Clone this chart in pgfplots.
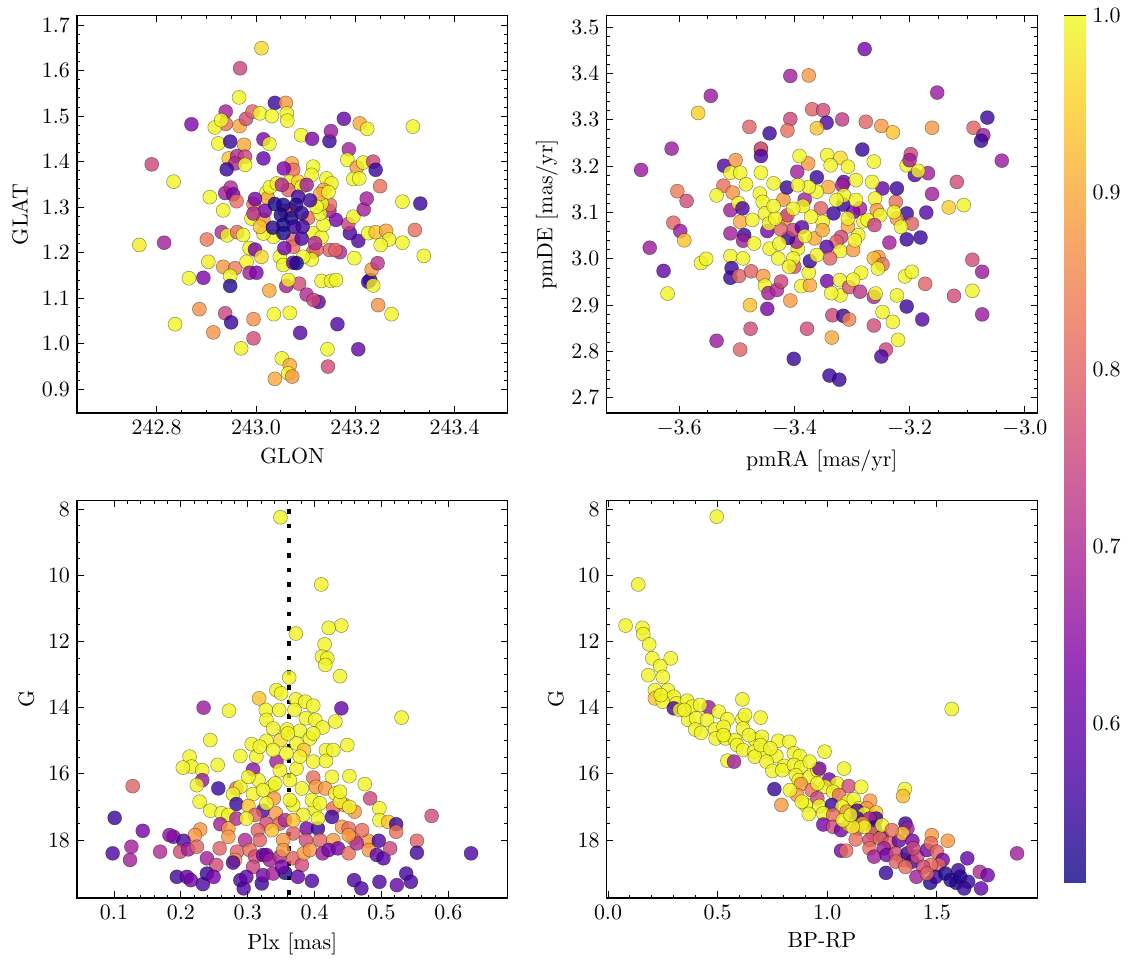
\documentclass[border=0pt]{standalone}
\usepackage{pgfplots}
\pgfplotsset{compat=1.18}
\usepackage{pgfplotstable}

\pgfplotsset{
  colormap={plasma}{rgb255=(13,8,135) rgb255=(76,2,161) rgb255=(126,3,168) rgb255=(170,35,149) rgb255=(204,71,120) rgb255=(230,108,92) rgb255=(248,149,64) rgb255=(253,196,39) rgb255=(240,249,33)},
  colormap={plasmalight}{rgb255=(61,57,159) rgb255=(112,53,180) rgb255=(152,53,185) rgb255=(187,79,170) rgb255=(214,108,147) rgb255=(235,137,125) rgb255=(249,170,102) rgb255=(253,208,82) rgb255=(243,250,77)},
  panel/.style={
    scale only axis, width=215.35pt, height=198.65pt, anchor=south west,
    tick align=inside, major tick length=3.3pt, minor tick length=1.7pt,
    every tick/.style={black, line width=0.45pt},
    axis line style={line width=0.55pt},
    colormap name=plasma, point meta min=0.51, point meta max=1.0,
    font=\fontsize{10.95}{13}\selectfont,
    scaled ticks=false, clip=true,
  },
  onedec/.style={/pgf/number format/.cd, fixed, fixed zerofill, precision=1},
  pts/.style={scatter, only marks, mark=*, mark size=3.5pt, scatter src=explicit,
    scatter/use mapped color={draw=black, fill=mapped color},
    mark options={line width=0.25pt, draw opacity=0.45, fill opacity=0.8}},
}

\pgfplotstableread[row sep=\\]{
x y p\\
243.011 1.649 0.965\\ 242.968 1.605 0.75\\ 242.966 1.541 1.0\\ 243.038 1.529 0.55\\ 243.060 1.529 0.88\\
243.062 1.506 0.995\\ 243.063 1.490 0.995\\ 242.870 1.482 0.63\\ 242.939 1.510 0.68\\ 242.939 1.483 0.82\\
242.917 1.475 0.995\\ 242.930 1.491 1.0\\ 242.967 1.478 0.90\\ 242.980 1.494 0.76\\ 242.993 1.510 0.80\\
243.008 1.506 1.0\\ 243.032 1.500 1.0\\ 242.924 1.440 1.0\\ 242.948 1.444 0.55\\ 242.976 1.437 0.90\\
243.015 1.449 0.63\\ 243.027 1.439 1.0\\ 243.091 1.458 1.0\\ 243.113 1.450 0.63\\ 243.148 1.445 0.55\\
243.151 1.467 0.67\\ 243.177 1.494 0.60\\ 243.209 1.484 0.90\\ 243.224 1.472 0.995\\ 243.316 1.477 0.995\\
243.187 1.427 0.68\\ 243.184 1.404 1.0\\ 243.203 1.387 0.88\\ 243.216 1.398 0.995\\ 243.236 1.400 0.75\\
243.241 1.382 0.55\\ 243.196 1.362 1.0\\ 243.208 1.363 1.0\\ 243.250 1.346 0.82\\ 242.790 1.394 0.75\\
242.834 1.356 0.995\\ 242.945 1.407 0.935\\ 242.962 1.412 0.70\\ 242.978 1.411 0.75\\ 242.958 1.396 0.70\\
242.978 1.393 1.0\\ 242.941 1.383 0.55\\ 243.015 1.407 0.60\\ 242.907 1.322 1.0\\ 242.934 1.293 1.0\\
242.938 1.331 0.68\\ 242.949 1.343 0.70\\ 242.954 1.328 0.62\\ 242.961 1.313 0.82\\ 242.931 1.245 0.70\\
242.942 1.238 0.995\\ 242.962 1.245 0.82\\ 242.974 1.239 1.0\\ 242.901 1.229 0.83\\ 242.815 1.222 0.68\\
242.765 1.217 0.985\\ 242.904 1.180 0.985\\ 242.934 1.169 0.88\\ 242.958 1.166 0.84\\ 242.948 1.149 1.0\\
242.865 1.144 1.0\\ 242.894 1.145 0.63\\ 242.948 1.127 0.53\\ 242.987 1.210 1.0\\ 242.998 1.207 0.62\\
242.981 1.180 0.995\\ 243.011 1.191 0.965\\ 242.987 1.156 0.68\\ 243.001 1.156 0.63\\ 242.886 1.076 0.87\\
242.914 1.025 0.87\\ 242.938 1.067 0.75\\ 242.950 1.047 0.55\\ 242.837 1.043 0.995\\ 242.970 0.990 0.995\\
242.995 1.054 0.87\\ 242.995 1.012 0.76\\ 243.027 1.117 0.90\\ 243.036 1.065 1.0\\ 243.068 1.068 1.0\\
243.052 0.968 0.995\\ 243.068 0.953 0.90\\ 243.065 0.935 1.0\\ 243.038 0.923 0.90\\ 243.073 0.928 0.88\\
243.089 1.024 0.58\\ 243.061 1.127 0.68\\ 243.087 1.132 0.76\\ 243.102 1.108 0.70\\ 243.126 1.092 0.58\\
243.116 1.096 0.75\\ 243.164 1.043 0.57\\ 243.145 0.950 0.76\\ 243.144 0.988 1.0\\ 243.206 0.988 0.60\\
243.132 1.138 0.995\\ 243.151 1.138 0.995\\ 243.161 1.140 1.0\\ 243.246 1.085 0.87\\ 243.273 1.065 0.995\\
243.230 1.140 0.55\\ 243.226 1.136 0.55\\ 243.236 1.128 0.995\\ 243.233 1.163 0.88\\ 243.245 1.177 0.72\\
243.198 1.188 1.0\\ 243.169 1.201 0.70\\ 243.148 1.206 0.80\\ 243.160 1.206 0.80\\ 243.206 1.226 0.57\\
243.189 1.243 0.57\\ 243.186 1.263 0.74\\ 243.196 1.279 1.0\\ 243.217 1.295 0.68\\ 243.223 1.319 0.68\\
243.161 1.272 0.62\\ 243.148 1.292 0.68\\ 243.149 1.305 0.82\\ 243.226 1.243 1.0\\ 243.241 1.245 0.935\\
243.262 1.248 0.90\\ 243.268 1.229 0.995\\ 243.251 1.217 0.995\\ 243.295 1.222 0.995\\ 243.320 1.250 0.82\\
243.338 1.193 0.995\\ 243.295 1.312 0.995\\ 243.331 1.308 0.55\\
243.072 1.396 0.90\\ 243.075 1.382 0.82\\ 243.115 1.389 1.0\\ 243.112 1.371 1.0\\ 243.142 1.363 1.0\\
243.152 1.352 0.995\\ 243.136 1.338 0.90\\ 243.068 1.356 1.0\\ 243.085 1.356 0.95\\ 243.021 1.332 1.0\\
243.024 1.320 0.90\\ 242.995 1.307 0.82\\ 242.991 1.275 0.995\\ 243.015 1.272 0.88\\ 243.105 1.276 0.82\\
243.071 1.294 0.80\\ 243.058 1.292 0.78\\ 243.035 1.235 1.0\\ 243.015 1.242 1.0\\ 243.075 1.229 0.80\\
243.115 1.243 0.995\\ 243.132 1.234 1.0\\ 243.136 1.261 1.0\\ 243.129 1.286 1.0\\ 243.132 1.308 0.995\\
243.115 1.202 0.80\\ 243.122 1.207 0.82\\ 243.112 1.185 1.0\\ 243.075 1.213 0.82\\ 243.048 1.191 1.0\\
243.055 1.173 1.0\\ 243.065 1.140 0.995\\ 243.095 1.191 1.0\\ 243.028 1.344 1.0\\ 243.129 1.329 0.90\\
243.146 1.333 0.995\\ 243.042 1.352 0.995\\ 243.065 1.338 0.80\\ 243.092 1.345 0.995\\ 243.122 1.301 1.0\\
243.008 1.257 0.935\\
243.056 1.385 0.63\\ 243.052 1.349 0.70\\ 243.102 1.349 0.68\\ 242.998 1.318 0.62\\ 243.018 1.292 0.62\\
242.995 1.286 0.70\\ 243.119 1.221 0.70\\ 243.057 1.210 0.62\\ 243.075 1.178 0.62\\ 243.085 1.323 0.56\\
243.109 1.315 0.56\\ 243.092 1.231 0.57\\ 243.038 1.307 0.52\\ 243.055 1.305 0.52\\ 243.081 1.305 0.53\\
243.050 1.283 0.52\\ 243.071 1.276 0.52\\ 243.092 1.287 0.54\\ 243.055 1.261 0.52\\ 243.034 1.255 0.53\\
243.077 1.257 0.55\\ 243.094 1.257 0.56\\ 243.055 1.243 0.52\\ 243.082 1.177 0.52\\
}\tldata

\pgfplotstableread[row sep=\\]{
x y p\\
-3.278 3.453 0.62\\ -3.407 3.395 0.68\\ -3.375 3.396 0.88\\ -3.545 3.352 0.67\\ -3.152 3.359 0.67\\
-3.567 3.315 0.95\\ -3.369 3.323 0.80\\ -3.350 3.321 0.76\\ -3.344 3.294 0.57\\ -3.317 3.301 0.73\\
-3.407 3.302 0.75\\ -3.478 3.285 0.80\\ -3.443 3.271 0.55\\ -3.412 3.277 0.82\\ -3.361 3.282 0.935\\
-3.276 3.296 0.80\\ -3.249 3.287 0.88\\ -3.229 3.273 0.935\\ -3.161 3.283 0.88\\ -3.089 3.283 0.80\\
-3.065 3.305 0.55\\ -3.072 3.267 0.67\\ -3.076 3.255 0.55\\ -3.040 3.212 0.67\\ -3.613 3.238 0.67\\
-3.666 3.192 0.67\\ -3.282 3.236 0.55\\ -3.458 3.236 0.935\\ -3.458 3.238 0.75\\ -3.458 3.222 0.57\\
-3.522 3.201 0.57\\ -3.502 3.213 0.88\\ -3.511 3.186 0.995\\ -3.494 3.186 0.995\\ -3.484 3.161 0.995\\
-3.458 3.186 0.995\\ -3.523 3.158 0.82\\ -3.507 3.143 0.87\\ -3.535 3.137 0.995\\ -3.603 3.146 0.84\\
-3.587 3.125 0.76\\ -3.610 3.078 0.80\\ -3.598 3.060 0.67\\ -3.591 3.040 0.935\\ -3.651 3.024 0.67\\
-3.627 2.974 0.60\\ -3.620 2.925 0.995\\ -3.562 2.991 0.995\\ -3.553 3.000 0.995\\ -3.511 3.105 0.68\\
-3.497 3.120 0.995\\ -3.490 3.109 0.57\\ -3.494 3.080 0.90\\ -3.473 3.084 0.995\\ -3.511 3.055 0.68\\
-3.487 3.051 0.55\\ -3.489 3.039 0.68\\ -3.470 3.033 0.995\\ -3.511 3.006 0.995\\ -3.489 3.001 0.995\\
-3.509 2.980 0.55\\ -3.511 2.959 0.55\\ -3.496 2.963 0.80\\ -3.475 2.973 0.80\\ -3.477 2.900 0.935\\
-3.476 2.849 0.76\\ -3.447 2.892 0.62\\ -3.535 2.823 0.67\\ -3.494 2.804 0.80\\ -3.401 2.784 0.55\\
-3.339 2.748 0.55\\ -3.322 2.739 0.55\\ -3.378 2.849 0.76\\ -3.407 2.910 0.88\\ -3.454 2.963 0.88\\
-3.451 2.942 0.995\\ -3.445 2.926 0.68\\ -3.430 2.933 0.70\\ -3.423 2.951 0.75\\ -3.388 2.941 0.995\\
-3.373 2.943 0.90\\ -3.375 2.970 0.995\\ -3.400 2.983 0.77\\ -3.373 2.995 0.55\\ -3.343 2.952 0.62\\
-3.334 2.878 0.75\\ -3.315 2.877 0.55\\ -3.305 2.869 0.85\\ -3.335 2.830 0.90\\ -3.320 2.921 0.995\\
-3.336 2.926 0.995\\ -3.321 2.954 0.995\\ -3.305 2.939 0.78\\ -3.286 2.929 0.72\\ -3.284 2.970 0.995\\
-3.298 2.955 0.995\\ -3.262 2.918 0.70\\ -3.259 2.925 0.995\\ -3.247 2.885 0.995\\ -3.262 2.856 0.76\\
-3.241 2.804 0.75\\ -3.249 2.789 0.57\\ -3.229 2.864 0.995\\ -3.222 2.921 0.995\\ -3.220 2.825 0.995\\
-3.205 2.897 0.55\\ -3.178 2.869 0.58\\ -3.173 2.946 0.80\\ -3.208 2.962 0.995\\ -3.196 2.972 0.995\\
-3.123 2.920 0.76\\ -3.091 2.931 0.995\\ -3.074 2.880 0.67\\ -3.074 2.972 0.67\\ -3.091 2.998 0.76\\
-3.254 3.004 0.88\\ -3.262 3.001 0.925\\ -3.247 2.988 0.82\\ -3.255 2.979 0.995\\ -3.235 3.035 0.68\\
-3.205 3.042 0.55\\ -3.181 3.046 0.55\\ -3.205 3.098 0.55\\ -3.171 3.100 0.58\\ -3.196 3.076 0.80\\
-3.222 3.087 0.88\\ -3.224 3.123 0.82\\ -3.215 3.069 0.995\\ -3.227 3.101 0.995\\ -3.222 3.152 0.55\\
-3.247 3.152 0.60\\ -3.161 3.140 0.68\\ -3.168 3.185 0.68\\ -3.191 3.181 0.58\\ -3.205 3.202 0.995\\
-3.185 3.190 0.995\\ -3.198 3.226 0.75\\ -3.200 3.213 0.68\\ -3.118 3.166 0.76\\ -3.132 3.111 0.95\\
-3.106 3.116 0.995\\ -3.262 3.210 0.995\\ -3.265 3.166 0.995\\ -3.260 3.130 0.995\\ -3.257 3.105 0.88\\
-3.251 3.094 0.995\\ -3.280 3.081 0.995\\ -3.273 3.084 0.995\\ -3.261 3.073 0.74\\ -3.286 3.109 0.68\\
-3.298 3.101 0.63\\ -3.314 3.166 0.58\\ -3.317 3.159 0.68\\ -3.315 3.117 0.55\\ -3.332 3.098 0.55\\
-3.289 3.051 0.995\\ -3.307 3.070 0.90\\ -3.319 3.047 0.75\\ -3.327 3.037 0.80\\ -3.320 3.017 0.995\\
-3.298 3.019 0.88\\ -3.344 3.026 0.58\\ -3.338 3.001 0.80\\ -3.361 3.008 0.995\\ -3.394 3.022 0.995\\
-3.396 3.037 0.68\\ -3.402 3.001 0.995\\ -3.411 3.045 0.55\\ -3.402 3.062 0.75\\ -3.387 3.068 0.58\\
-3.416 3.087 0.90\\ -3.412 3.094 0.75\\ -3.424 3.064 0.80\\ -3.419 3.128 0.88\\ -3.413 3.154 0.55\\
-3.436 3.163 0.995\\ -3.447 3.060 0.62\\ -3.443 3.022 0.995\\ -3.428 3.001 0.995\\ -3.460 3.141 0.995\\
-3.455 3.123 0.995\\ -3.451 3.098 0.995\\ -3.444 3.076 0.995\\ -3.433 3.087 0.995\\ -3.395 3.188 0.68\\
-3.376 3.206 0.88\\ -3.391 3.222 0.995\\ -3.382 3.128 0.68\\ -3.361 3.176 0.55\\ -3.354 3.109 0.80\\
-3.341 3.155 0.90\\ -3.361 3.145 0.995\\ -3.343 3.224 0.995\\ -3.320 3.218 0.965\\ -3.337 3.202 0.995\\
-3.307 3.199 0.995\\ -3.293 3.170 0.995\\ -3.351 3.080 0.995\\ -3.371 3.091 0.995\\ -3.365 3.044 0.90\\
-3.351 3.062 0.90\\ -3.382 3.049 0.995\\ -3.385 3.114 0.995\\ -3.402 3.108 0.995\\ -3.436 3.114 0.995\\
-3.375 3.155 0.995\\ -3.394 3.159 0.995\\ -3.314 3.137 0.995\\ -3.327 3.127 0.995\\ -3.293 3.127 0.995\\
-3.307 3.087 0.995\\ -3.426 3.033 0.995\\ -3.409 2.983 0.995\\ -3.295 3.040 0.995\\
}\trdata

\pgfplotstableread[row sep=\\]{
x y p\\
0.349 8.25 0.995\\ 0.410 10.28 0.995\\ 0.440 11.52 0.995\\ 0.421 11.59 0.995\\ 0.372 11.76 0.995\\
0.415 12.09 0.995\\ 0.411 12.46 0.995\\ 0.419 12.51 0.995\\ 0.416 12.71 0.995\\ 0.438 13.05 0.995\\
0.362 13.09 0.995\\ 0.343 13.47 0.995\\ 0.350 13.57 0.995\\ 0.317 13.72 0.935\\ 0.372 13.75 0.995\\
0.386 13.82 0.995\\ 0.398 13.94 0.995\\ 0.440 14.02 0.60\\ 0.234 14.00 0.67\\ 0.272 14.09 0.995\\
0.327 14.07 0.995\\ 0.347 14.07 0.995\\ 0.370 14.07 0.995\\ 0.328 14.37 0.995\\ 0.387 14.32 0.995\\
0.401 14.37 0.995\\ 0.431 14.42 0.995\\ 0.530 14.30 0.995\\ 0.412 14.60 0.995\\ 0.338 14.63 0.995\\
0.359 14.66 0.995\\ 0.378 14.70 0.995\\ 0.393 14.93 0.995\\ 0.244 14.98 0.995\\ 0.349 14.98 0.965\\
0.328 15.00 0.995\\ 0.373 15.08 0.995\\ 0.306 15.10 0.995\\ 0.449 15.13 0.995\\ 0.384 15.28 0.935\\
0.417 15.28 0.995\\ 0.289 15.46 0.995\\ 0.313 15.48 0.995\\ 0.213 15.48 0.995\\ 0.216 15.78 0.995\\
0.203 15.81 0.995\\ 0.255 15.73 0.995\\ 0.343 15.63 0.68\\ 0.398 15.63 0.995\\ 0.417 15.61 0.995\\
0.308 15.87 0.65\\ 0.232 15.89 0.995\\ 0.348 15.89 0.995\\ 0.373 15.84 0.995\\ 0.426 16.09 0.995\\
0.452 16.07 0.995\\ 0.398 16.11 0.82\\ 0.232 16.19 0.67\\ 0.128 16.37 0.80\\ 0.224 16.34 0.995\\
0.475 16.31 0.995\\ 0.316 16.19 0.995\\ 0.256 16.44 0.55\\ 0.283 16.44 0.82\\ 0.289 16.39 0.995\\
0.336 16.39 0.995\\ 0.381 16.44 0.995\\ 0.402 16.39 0.88\\ 0.416 16.44 0.88\\ 0.431 16.59 0.995\\
0.483 16.74 0.75\\ 0.278 16.61 0.995\\ 0.308 16.61 0.995\\ 0.339 16.74 0.88\\ 0.228 16.84 0.995\\
0.283 16.91 0.55\\ 0.301 16.97 0.935\\ 0.323 17.11 0.57\\ 0.368 16.94 0.995\\ 0.400 17.07 0.995\\
0.428 17.04 0.82\\ 0.445 16.94 0.88\\ 0.497 17.04 0.995\\ 0.244 17.11 0.995\\ 0.261 17.19 0.995\\
0.271 17.24 0.995\\ 0.311 17.24 0.80\\ 0.342 17.19 0.88\\ 0.383 17.24 0.995\\ 0.460 17.14 0.88\\
0.575 17.27 0.76\\ 0.101 17.33 0.55\\ 0.426 17.30 0.56\\ 0.283 17.35 0.70\\ 0.298 17.35 0.995\\
0.497 17.40 0.995\\ 0.510 17.45 0.935\\ 0.259 17.52 0.68\\ 0.328 17.50 0.76\\ 0.348 17.50 0.80\\
0.356 17.40 0.70\\ 0.388 17.65 0.62\\ 0.405 17.65 0.55\\ 0.441 17.60 0.88\\ 0.451 17.65 0.82\\
0.522 17.52 0.55\\ 0.522 17.75 0.82\\ 0.143 17.72 0.62\\ 0.229 17.68 0.88\\ 0.221 17.85 0.88\\
0.271 17.65 0.88\\ 0.315 17.70 0.80\\ 0.336 17.70 0.935\\ 0.368 17.80 0.80\\ 0.271 17.90 0.88\\
0.189 17.90 0.62\\ 0.183 17.85 0.65\\ 0.204 18.02 0.57\\ 0.318 18.00 0.80\\ 0.353 18.00 0.88\\
0.296 18.00 0.70\\ 0.387 18.00 0.76\\ 0.408 18.00 0.80\\ 0.428 18.00 0.88\\ 0.458 17.95 0.88\\
0.480 18.02 0.88\\ 0.496 18.02 0.57\\ 0.553 18.02 0.80\\ 0.098 18.40 0.57\\ 0.126 18.20 0.68\\
0.124 18.60 0.68\\ 0.169 18.35 0.70\\ 0.199 18.35 0.76\\ 0.211 18.28 0.68\\ 0.224 18.20 0.80\\
0.239 18.55 0.68\\ 0.253 18.75 0.76\\ 0.258 18.25 0.80\\ 0.284 18.35 0.80\\ 0.281 18.60 0.88\\
0.303 18.30 0.82\\ 0.311 18.50 0.76\\ 0.323 18.45 0.62\\ 0.328 18.45 0.60\\ 0.308 18.81 0.75\\
0.333 18.60 0.68\\ 0.348 18.50 0.70\\ 0.353 18.30 0.88\\ 0.368 18.55 0.80\\ 0.381 18.75 0.76\\
0.384 18.40 0.88\\ 0.393 18.30 0.88\\ 0.412 18.40 0.68\\ 0.421 18.30 0.62\\ 0.435 18.25 0.62\\
0.451 18.40 0.82\\ 0.463 18.10 0.70\\ 0.481 18.30 0.88\\ 0.493 18.45 0.60\\ 0.503 18.55 0.57\\
0.513 18.25 0.75\\ 0.553 18.38 0.56\\ 0.634 18.40 0.57\\ 0.194 19.11 0.56\\ 0.209 19.11 0.60\\
0.215 19.21 0.62\\ 0.233 19.33 0.57\\ 0.239 19.01 0.55\\ 0.249 19.11 0.62\\ 0.278 18.68 0.57\\
0.289 19.21 0.57\\ 0.294 19.46 0.57\\ 0.298 19.11 0.60\\ 0.321 19.31 0.55\\ 0.323 19.06 0.62\\
0.338 19.01 0.68\\ 0.356 18.99 0.52\\ 0.351 18.81 0.62\\ 0.375 19.11 0.60\\ 0.396 19.23 0.57\\
0.459 19.21 0.57\\ 0.470 19.46 0.57\\ 0.497 19.26 0.57\\ 0.523 19.36 0.60\\ 0.537 19.01 0.56\\
0.544 19.26 0.57\\ 0.363 16.19 0.995\\ 0.358 15.38 0.995\\ 0.363 16.79 0.995\\ 0.396 16.79 0.995\\
0.408 16.89 0.995\\ 0.438 16.84 0.995\\ 0.438 16.54 0.995\\ 0.328 16.89 0.995\\ 0.323 16.49 0.995\\
0.341 16.29 0.995\\ 0.378 15.48 0.995\\ 0.360 14.78 0.995\\ 0.338 15.28 0.995\\ 0.318 15.18 0.995\\
0.398 14.78 0.995\\ 0.428 15.28 0.995\\ 0.301 16.09 0.995\\ 0.368 17.40 0.935\\ 0.405 17.35 0.995\\
0.452 17.00 0.995\\ 0.471 17.70 0.82\\ 0.451 17.85 0.88\\
}\bldata

\pgfplotstableread[row sep=\\]{
x y p\\
0.496 8.23 0.995\\ 0.138 10.28 0.995\\ 0.080 11.52 0.995\\ 0.157 11.59 0.995\\ 0.161 11.78 0.995\\
0.188 12.09 0.995\\ 0.286 12.51 0.995\\ 0.202 12.51 0.995\\ 0.238 12.74 0.995\\ 0.184 13.02 0.995\\
0.250 13.07 0.995\\ 0.214 13.47 0.995\\ 0.273 13.47 0.995\\ 0.214 13.72 0.935\\ 0.613 13.75 0.995\\
0.300 13.67 0.995\\ 0.313 13.87 0.995\\ 0.361 13.79 0.995\\ 0.250 13.82 0.995\\ 0.300 14.02 0.57\\
0.459 13.99 0.67\\ 1.568 14.04 0.995\\ 0.327 14.07 0.995\\ 0.384 13.97 0.995\\ 0.420 13.92 0.995\\
0.505 14.12 0.995\\ 0.366 14.37 0.995\\ 0.402 14.32 0.995\\ 0.452 14.37 0.995\\ 0.545 14.35 0.995\\
0.613 14.35 0.995\\ 0.696 14.30 0.995\\ 0.398 14.66 0.995\\ 0.425 14.76 0.995\\ 0.488 14.66 0.995\\
0.527 14.58 0.995\\ 0.616 14.63 0.995\\ 0.491 14.93 0.995\\ 0.536 14.93 0.995\\ 0.580 14.98 0.995\\
0.670 14.96 0.995\\ 0.702 14.88 0.995\\ 0.777 15.00 0.995\\ 0.827 15.03 0.995\\ 0.589 15.13 0.995\\
0.616 15.28 0.995\\ 0.666 15.33 0.995\\ 0.714 15.33 0.995\\ 0.768 15.46 0.995\\ 0.848 15.38 0.995\\
0.875 15.46 0.995\\ 0.988 15.33 0.995\\ 0.545 15.60 0.995\\ 0.575 15.63 0.68\\ 0.670 15.48 0.995\\
0.723 15.63 0.995\\ 0.750 15.91 0.995\\ 0.804 15.76 0.995\\ 0.795 15.89 0.995\\ 0.848 15.73 0.995\\
0.880 15.80 0.995\\ 0.857 16.04 0.995\\ 0.870 16.19 0.995\\ 0.920 16.09 0.995\\ 0.955 15.89 0.995\\
0.964 15.84 0.62\\ 1.077 15.84 0.995\\ 1.009 16.17 0.62\\ 1.045 16.29 0.995\\ 0.759 16.46 0.55\\
0.880 16.31 0.88\\ 0.929 16.49 0.82\\ 0.991 16.39 0.995\\ 1.098 16.37 0.76\\ 1.155 16.39 0.995\\
1.354 16.46 0.995\\ 1.346 16.67 0.925\\ 0.863 16.64 0.88\\ 0.955 16.74 0.75\\ 1.027 16.54 0.995\\
1.054 16.64 0.82\\ 1.093 16.84 0.995\\ 1.121 16.77 0.995\\ 1.196 16.81 0.88\\ 0.791 16.94 0.88\\
0.902 16.94 0.995\\ 0.964 16.97 0.995\\ 1.021 16.94 0.55\\ 1.068 16.99 0.995\\ 1.146 17.04 0.995\\
1.180 17.04 0.88\\ 0.916 17.21 0.995\\ 0.982 17.19 0.995\\ 1.027 17.24 0.82\\ 1.089 17.14 0.88\\
1.137 17.11 0.57\\ 1.170 17.21 0.995\\ 1.223 17.17 0.935\\ 1.138 17.35 0.55\\ 1.223 17.35 0.55\\
1.193 17.35 0.68\\ 0.982 17.53 0.62\\ 1.027 17.60 0.76\\ 1.063 17.70 0.62\\ 1.098 17.55 0.88\\
1.138 17.65 0.82\\ 1.161 17.50 0.88\\ 1.216 17.62 0.55\\ 1.207 17.80 0.82\\ 1.250 17.90 0.57\\
1.130 17.98 0.82\\ 1.193 18.00 0.76\\ 1.241 17.95 0.82\\ 1.286 18.08 0.80\\ 1.327 18.02 0.60\\
1.357 17.50 0.55\\ 1.366 17.65 0.68\\ 1.344 17.80 0.935\\ 1.389 18.02 0.62\\ 1.477 17.85 0.88\\
1.550 18.02 0.88\\ 1.063 18.32 0.62\\ 1.086 18.32 0.82\\ 1.193 18.25 0.82\\ 1.214 18.50 0.68\\
1.259 18.25 0.68\\ 1.271 18.45 0.62\\ 1.313 18.40 0.76\\ 1.348 18.60 0.82\\ 1.366 18.40 0.55\\
1.389 18.65 0.57\\ 1.411 18.50 0.76\\ 1.455 18.30 0.62\\ 1.473 18.10 0.82\\ 1.500 18.35 0.80\\
1.527 18.60 0.62\\ 1.509 18.75 0.80\\ 1.473 18.75 0.82\\ 1.438 18.81 0.76\\ 1.407 19.11 0.68\\
1.268 18.99 0.55\\ 1.639 18.55 0.60\\ 1.866 18.40 0.68\\ 1.470 19.29 0.53\\ 1.495 19.11 0.56\\
1.539 19.01 0.52\\ 1.598 18.91 0.55\\ 1.589 19.29 0.52\\ 1.563 19.21 0.53\\ 1.607 19.11 0.53\\
1.643 19.26 0.55\\ 1.625 19.46 0.55\\ 1.702 19.46 0.60\\ 1.696 18.96 0.70\\ 1.732 19.06 0.62\\
1.455 19.01 0.80\\ 1.170 17.60 0.995\\ 1.116 17.60 0.995\\ 1.071 17.40 0.995\\ 1.107 17.24 0.995\\
0.884 16.84 0.995\\ 0.830 16.49 0.995\\ 0.955 16.29 0.995\\ 0.920 15.63 0.995\\ 0.696 15.13 0.995\\
0.741 15.23 0.995\\ 0.527 14.83 0.995\\ 0.643 14.83 0.995\\ 0.625 14.22 0.995\\ 0.348 14.07 0.995\\
0.241 13.62 0.995\\ 1.250 17.55 0.995\\ 1.295 17.70 0.82\\ 1.393 18.25 0.75\\ 1.313 18.65 0.80\\
1.357 18.81 0.82\\
}\brdata

\begin{document}
\begin{tikzpicture}
\path[use as bounding box] (0,0) rectangle (566.5pt,-482.5pt);

% top left
\begin{axis}[panel, at={(38.5pt,-206.5pt)},
  xmin=242.6395, xmax=243.507, ymin=0.848, ymax=1.7204,
  xtick={242.8,243.0,243.2,243.4}, minor x tick num=3,
  ytick={0.9,1.0,1.1,1.2,1.3,1.4,1.5,1.6,1.7}, minor y tick num=4,
  xticklabel style={onedec}, yticklabel style={onedec},
  xlabel={GLON}, ylabel={GLAT}]
\addplot[pts] table[x=x, y=y, meta=p] {\tldata};
\end{axis}

% top right
\begin{axis}[panel, at={(303.25pt,-206.5pt)},
  xmin=-3.726, xmax=-2.9785, ymin=2.667, ymax=3.525,
  xtick={-3.6,-3.4,-3.2,-3.0}, minor x tick num=3,
  ytick={2.7,2.8,2.9,3.0,3.1,3.2,3.3,3.4,3.5}, minor y tick num=4,
  xticklabel style={onedec}, yticklabel style={onedec},
  xlabel={pmRA [mas/yr]}, ylabel={pmDE [mas/yr]}]
\addplot[pts] table[x=x, y=y, meta=p] {\trdata};
\end{axis}

% bottom left
\begin{axis}[panel, at={(38.5pt,-449pt)},
  xmin=0.0447, xmax=0.6888, ymin=7.75, ymax=19.75, y dir=reverse,
  xtick={0.1,0.2,0.3,0.4,0.5,0.6}, minor x tick num=4,
  ytick={8,10,12,14,16,18}, minor y tick num=3,
  xticklabel style={onedec},
  xlabel={Plx [mas]}, ylabel={G}]
\addplot[pts] table[x=x, y=y, meta=p] {\bldata};
\addplot[black, line width=2.4pt, line cap=butt, dash pattern=on 2.4pt off 4.93pt] coordinates {(0.3617,8.0) (0.3617,19.75)};
\end{axis}

% bottom right
\begin{axis}[panel, at={(303.3pt,-449pt)},
  xmin=-0.0064, xmax=1.9585, ymin=7.75, ymax=19.75, y dir=reverse,
  xtick={0,0.5,1.0,1.5}, minor x tick num=4,
  ytick={8,10,12,14,16,18}, minor y tick num=3,
  xticklabel style={onedec},
  xlabel={BP-RP}, ylabel={G}]
\addplot[pts] table[x=x, y=y, meta=p] {\brdata};
\end{axis}

% colorbar
\begin{axis}[at={(532.15pt,-441.15pt)}, anchor=south west, scale only axis,
  width=10.6pt, height=433.3pt, xmin=0, xmax=1, ymin=0.51, ymax=1.0,
  xtick=\empty, ytick={0.6,0.7,0.8,0.9,1.0}, minor y tick num=4,
  ytick pos=right, yticklabel pos=right, tick align=inside,
  major tick length=3.3pt, minor tick length=1.7pt,
  every tick/.style={black, line width=0.45pt},
  axis line style={line width=0.55pt},
  colormap name=plasmalight, point meta min=0.51, point meta max=1.0,
  font=\fontsize{10.95}{13}\selectfont, yticklabel style={onedec}]
\addplot[surf, shader=interp, mesh/cols=2, point meta=y] coordinates {(0,0.51) (1,0.51) (0,1.0) (1,1.0)};
\end{axis}
\end{tikzpicture}
\end{document}
